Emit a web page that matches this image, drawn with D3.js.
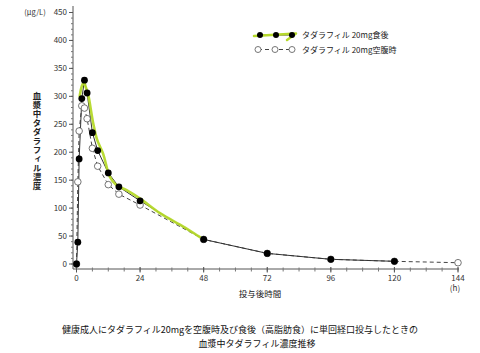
<!DOCTYPE html>
<html><head><meta charset="utf-8">
<script src="https://cdn.jsdelivr.net/npm/d3@7"></script>
<style>body{margin:0;background:#fff}svg{display:block}text{font-family:"Noto Sans CJK JP","Noto Sans",sans-serif}</style>
</head><body><svg id="c" width="480" height="353"></svg>
<script>
// data
const fedTimes = [0, 0.5, 1, 2, 3, 4, 6, 8, 12, 16, 24, 48, 72, 96, 120];
const fedValues = [0, 39, 188, 296, 329, 306, 235, 203, 163, 138, 113, 44, 19, 8.4, 4.8];
const fastTimes = [0, 0.5, 1, 2, 3, 4, 6, 8, 12, 16, 24, 48, 72, 96, 120, 144];
const fastValues = [0, 147, 238, 283, 279, 260, 207, 175, 142, 125, 105.5, 44, 19, 8.4, 4.8, 2.3];
// hand-drawn highlight stroke over the fed curve
const markTimes = [1.2, 2.0, 2.9, 3.4, 4.4, 6.3, 7.8, 10, 12.6, 15.1, 18.9, 24, 31.5, 40.3, 46, 48];
const markValues = [300, 318, 326, 318, 303, 252, 222, 198, 156, 141, 132, 117, 91, 67, 50, 44];
const yTicks = [0, 50, 100, 150, 200, 250, 300, 350, 400, 450];
const xTicks = [0, 24, 48, 72, 96, 120, 144];
const legendLabels = ["タダラフィル 20mg食後", "タダラフィル 20mg空腹時"];

const svg = d3.select("#c");
const x = d3.scaleLinear().domain([0, 144]).range([76.5, 458]);
const y = d3.scaleLinear().domain([0, 450]).range([264, 12.5]);
const axX = 73, axY = 269;
const green = "#b5d92a";

// y axis
const ya = svg.append("g").attr("transform", `translate(${axX},0)`);
ya.append("line").attr("y1", axY).attr("y2", 6).attr("stroke", "#555").attr("stroke-width", 1);
ya.selectAll(".mn").data(d3.range(0, 451, 10)).join("line")
  .attr("x1", -2).attr("x2", 0).attr("y1", d => y(d)).attr("y2", d => y(d)).attr("stroke", "#777");
ya.selectAll(".mj").data(yTicks).join("line")
  .attr("x1", -4).attr("x2", 0).attr("y1", d => y(d)).attr("y2", d => y(d)).attr("stroke", "#555");
ya.selectAll("text").data(yTicks).join("text")
  .attr("x", -6).attr("y", d => y(d) + 2.8).attr("text-anchor", "end")
  .attr("font-size", 8).attr("fill", "#333").text(d => d);

// x axis
const xa = svg.append("g").attr("transform", `translate(0,${axY})`);
xa.append("line").attr("x1", axX).attr("x2", 459).attr("stroke", "#555");
xa.selectAll(".mn").data(d3.range(0, 145, 6)).join("line")
  .attr("x1", d => x(d)).attr("x2", d => x(d)).attr("y1", -1.5).attr("y2", 2.5).attr("stroke", "#777");
xa.selectAll(".mj").data(xTicks).join("line")
  .attr("x1", d => x(d)).attr("x2", d => x(d)).attr("y1", -2).attr("y2", 3.5).attr("stroke", "#555");
xa.selectAll("text").data(xTicks).join("text")
  .attr("x", d => x(d)).attr("y", 12).attr("text-anchor", "middle")
  .attr("font-size", 8).attr("fill", "#333").text(d => d);

// labels
svg.append("text").attr("x", 455).attr("y", 291).attr("text-anchor", "middle").attr("font-size", 8).attr("fill", "#333").text("(h)");
svg.append("text").attr("x", 260).attr("y", 297).attr("text-anchor", "middle").attr("font-size", 8.5).attr("fill", "#222").text("投与後時間");
svg.append("text").attr("x", 35).attr("y", 15).attr("text-anchor", "middle").attr("font-size", 7.5).attr("fill", "#333").text("(μg/L)");
svg.append("text").attr("x", 37).attr("y", 92)
  .attr("writing-mode", "vertical-rl").attr("letter-spacing", 0.5)
  .attr("font-size", 8.5).attr("font-weight", "bold").attr("fill", "#222").text("血漿中タダラフィル濃度");
svg.append("text").attr("x", 240).attr("y", 333).attr("text-anchor", "middle").attr("font-size", 9).attr("fill", "#111")
  .text("健康成人にタダラフィル20mgを空腹時及び食後（高脂肪食）に単回経口投与したときの");
svg.append("text").attr("x", 257).attr("y", 347).attr("text-anchor", "middle").attr("font-size", 9).attr("fill", "#111")
  .text("血漿中タダラフィル濃度推移");

// series lines
const fast = fastTimes.map((t, i) => [t, fastValues[i]]);
const fed = fedTimes.map((t, i) => [t, fedValues[i]]);
const mark = markTimes.map((t, i) => [t, markValues[i]]);
const line = d3.line().x(d => x(d[0])).y(d => y(d[1]));
svg.append("path").attr("d", line(fast)).attr("fill", "none").attr("stroke", "#444").attr("stroke-width", 1).attr("stroke-dasharray", "4,3");
svg.append("path").attr("d", line(fed)).attr("fill", "none").attr("stroke", "#333").attr("stroke-width", 1);
svg.append("path").attr("d", d3.line().x(d => x(d[0])).y(d => y(d[1])).curve(d3.curveCatmullRom)(mark))
  .attr("fill", "none").attr("stroke", green).attr("stroke-width", 2.6).attr("stroke-linecap", "round").attr("stroke-linejoin", "round").attr("opacity", 0.95);
svg.selectAll(".fc").data(fast).join("circle")
  .attr("cx", d => x(d[0])).attr("cy", d => y(d[1])).attr("r", 3.3)
  .attr("fill", "#fff").attr("stroke", "#666").attr("stroke-width", 0.9);
svg.selectAll(".dc").data(fed).join("circle")
  .attr("cx", d => x(d[0])).attr("cy", d => y(d[1])).attr("r", 3.4).attr("fill", "#000");

// legend
const lg = svg.append("g");
const lx = [260, 276, 292];
lg.append("line").attr("x1", 260).attr("x2", 292).attr("y1", 35).attr("y2", 35).attr("stroke", "#333");
lg.append("path").attr("d", "M254,36 L296,33.5 L287,40").attr("fill", "none").attr("stroke", green).attr("stroke-width", 2.5).attr("stroke-linecap", "round").attr("stroke-linejoin", "round");
lg.selectAll(".l1").data(lx).join("circle").attr("cx", d => d).attr("cy", 35).attr("r", 3).attr("fill", "#000");
lg.append("line").attr("x1", 258).attr("x2", 292).attr("y1", 49.5).attr("y2", 49.5).attr("stroke", "#444").attr("stroke-dasharray", "4,3");
lg.selectAll(".l2").data([258, 275, 292]).join("circle").attr("cx", d => d).attr("cy", 49.5).attr("r", 3)
  .attr("fill", "#fff").attr("stroke", "#666").attr("stroke-width", 0.9);
lg.selectAll(".lt").data(legendLabels).join("text")
  .attr("x", 302).attr("y", (d, i) => 38 + i * 14.5).attr("font-size", 8).attr("fill", "#222").text(d => d);
</script></body></html>
